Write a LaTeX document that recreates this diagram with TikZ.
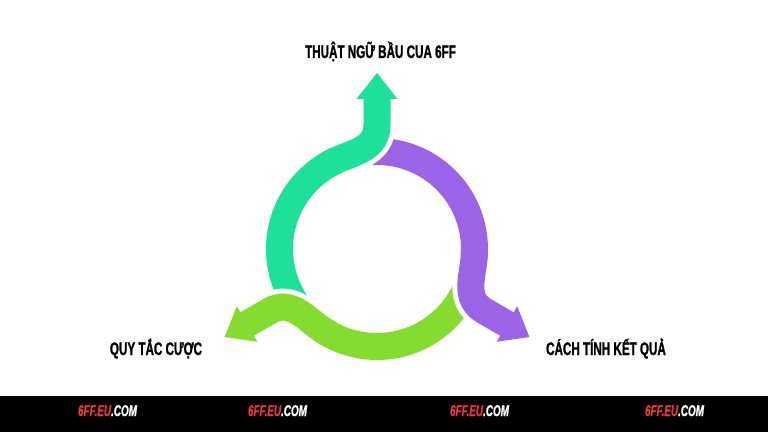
\documentclass[tikz,border=0pt]{standalone}
\usepackage{fontspec}
\newfontfamily\labelfont[FakeStretch=0.64,FakeBold=1.2]{Liberation Sans}
\definecolor{ringgreen}{HTML}{1DE09A}
\definecolor{ringpurple}{HTML}{9B64E6}
\definecolor{ringlime}{HTML}{84DC2F}
\definecolor{footred}{HTML}{E5393B}
\begin{document}
\begin{tikzpicture}[x=1pt,y=1pt,
        band/.style={line width=27pt},
        halo/.style={line width=37pt,white},
        lbl/.style={font=\labelfont\bfseries\fontsize{18.2}{20}\selectfont,anchor=base},
        foot/.style={font=\labelfont\bfseries\itshape\fontsize{15.5}{17}\selectfont,anchor=base}]
        \useasboundingbox (0,0) rectangle (768,432);
        \fill[white] (0,0) rectangle (768,432);
        \fill[black] (0,0) rectangle (768,36);
        \begin{scope}[shift={(377,183)}]
        \draw[band,ringgreen] (215:97.5) arc[start angle=215,end angle=115,radius=97.5pt];
        \draw[band,ringpurple,rotate=-120] (215:97.5) arc[start angle=215,end angle=115,radius=97.5pt];
        \draw[band,ringlime,rotate=120] (215:97.5) arc[start angle=215,end angle=115,radius=97.5pt];
        \draw[halo] (115:97.5) .. controls (-23.1,96.9) and (0,100) .. (0,124) -- (0,150);
        \draw[band,ringgreen] (120:97.5) arc[start angle=120,end angle=115,radius=97.5pt] .. controls (-23.1,96.9) and (0,100) .. (0,124) -- (0,151);
        \fill[ringgreen] (-20.5,150) -- (0,176) -- (20.5,150) -- cycle;
        \draw[halo,rotate=-120] (115:97.5) .. controls (-23.1,96.9) and (0,100) .. (0,124) -- (0,150);
        \draw[band,ringpurple,rotate=-120] (120:97.5) arc[start angle=120,end angle=115,radius=97.5pt] .. controls (-23.1,96.9) and (0,100) .. (0,124) -- (0,151);
        \fill[ringpurple,rotate=-120] (-20.5,150) -- (0,176) -- (20.5,150) -- cycle;
        \draw[halo,rotate=120] (115:97.5) .. controls (-23.1,96.9) and (0,100) .. (0,124) -- (0,150);
        \draw[band,ringlime,rotate=120] (120:97.5) arc[start angle=120,end angle=115,radius=97.5pt] .. controls (-23.1,96.9) and (0,100) .. (0,124) -- (0,151);
        \fill[ringlime,rotate=120] (-20.5,150) -- (0,176) -- (20.5,150) -- cycle;
        \end{scope}
        \node[lbl] (terms) at (380.5,374) {THUẬT NGỮ BẦU CUA 6FF};
        \node[lbl] (rules) at (156,77) {QUY TẮC CƯỢC};
        \node[lbl] (result) at (606,77) {CÁCH TÍNH KẾT QUẢ};
        \node[foot] (site1) at (107.5,16) {\textcolor{footred}{6FF.EU}\textcolor{white}{.COM}};
        \node[foot] (site2) at (277.5,16) {\textcolor{footred}{6FF.EU}\textcolor{white}{.COM}};
        \node[foot] (site3) at (479.5,16) {\textcolor{footred}{6FF.EU}\textcolor{white}{.COM}};
        \node[foot] (site4) at (674.5,16) {\textcolor{footred}{6FF.EU}\textcolor{white}{.COM}};
    \end{tikzpicture}
\end{document}
